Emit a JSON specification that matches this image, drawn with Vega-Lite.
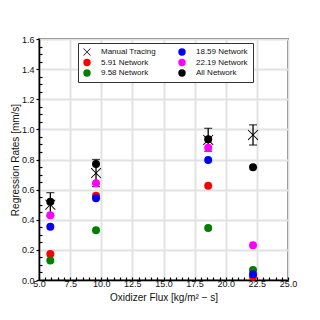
{
  "$schema": "https://vega.github.io/schema/vega-lite/v6.json",
  "width": 249,
  "height": 241,
  "autosize": "none",
  "padding": {"left": 39, "top": 39, "right": 32, "bottom": 40},
  "background": "white",
  "config": {
    "font": "Liberation Sans",
    "view": {"stroke": "#222", "strokeWidth": 1.5},
    "axis": {
      "titleFontSize": 10,
      "titleFontWeight": "normal",
      "titleColor": "#111",
      "labelFontSize": 9,
      "labelColor": "#111",
      "labelPadding": 2,
      "labelFlush": false,
      "labelOverlap": false,
      "domainColor": "black",
      "domainWidth": 1.5,
      "tickColor": "black",
      "tickWidth": 1.2,
      "grid": true,
      "gridColor": "#e2e2e2",
      "gridWidth": 2
    },
    "axisX": {"titlePadding": 4},
    "axisY": {"titlePadding": 1}
  },
  "datasets": {
    "pts": [
      {"flux": 5.91, "rate": 0.50, "series": "Manual Tracing"},
      {"flux": 9.58, "rate": 0.71, "series": "Manual Tracing"},
      {"flux": 18.59, "rate": 0.93, "series": "Manual Tracing"},
      {"flux": 22.19, "rate": 0.963, "series": "Manual Tracing"},
      {"flux": 5.91, "rate": 0.172, "series": "5.91 Network"},
      {"flux": 9.58, "rate": 0.56, "series": "5.91 Network"},
      {"flux": 18.59, "rate": 0.626, "series": "5.91 Network"},
      {"flux": 22.19, "rate": 0.022, "series": "5.91 Network"},
      {"flux": 5.91, "rate": 0.13, "series": "9.58 Network"},
      {"flux": 9.58, "rate": 0.33, "series": "9.58 Network"},
      {"flux": 18.59, "rate": 0.345, "series": "9.58 Network"},
      {"flux": 22.19, "rate": 0.066, "series": "9.58 Network"},
      {"flux": 5.91, "rate": 0.354, "series": "18.59 Network"},
      {"flux": 9.58, "rate": 0.543, "series": "18.59 Network"},
      {"flux": 18.59, "rate": 0.797, "series": "18.59 Network"},
      {"flux": 22.19, "rate": 0.038, "series": "18.59 Network"},
      {"flux": 5.91, "rate": 0.43, "series": "22.19 Network"},
      {"flux": 9.58, "rate": 0.642, "series": "22.19 Network"},
      {"flux": 18.59, "rate": 0.878, "series": "22.19 Network"},
      {"flux": 22.19, "rate": 0.23, "series": "22.19 Network"},
      {"flux": 5.91, "rate": 0.52, "series": "All Network"},
      {"flux": 9.58, "rate": 0.77, "series": "All Network"},
      {"flux": 18.59, "rate": 0.934, "series": "All Network"},
      {"flux": 22.19, "rate": 0.748, "series": "All Network"}
    ],
    "err": [
      {"flux": 5.91, "lo": 0.425, "hi": 0.58},
      {"flux": 9.58, "lo": 0.62, "hi": 0.80},
      {"flux": 18.59, "lo": 0.855, "hi": 1.007},
      {"flux": 22.19, "lo": 0.896, "hi": 1.03}
    ]
  },
  "encoding": {
    "x": {
      "field": "flux",
      "type": "quantitative",
      "scale": {"domain": [5, 25], "nice": false, "zero": false},
      "axis": {
        "title": "Oxidizer Flux [kg/m² − s]",
        "values": [5,5.5,6,6.5,7,7.5,8,8.5,9,9.5,10,10.5,11,11.5,12,12.5,13,13.5,14,14.5,15,15.5,16,16.5,17,17.5,18,18.5,19,19.5,20,20.5,21,21.5,22,22.5,23,23.5,24,24.5,25],
        "labelExpr": "abs(datum.value/2.5 - round(datum.value/2.5)) < 0.001 ? format(datum.value, '.1f') : ''",
        "tickSize": -3,
        "gridOpacity": {"condition": {"test": "abs(datum.value/2.5 - round(datum.value/2.5)) < 0.001", "value": 1}, "value": 0}
      }
    }
  },
  "layer": [
    {
      "data": {"name": "err"},
      "mark": {"type": "rule", "color": "black", "strokeWidth": 1.3},
      "encoding": {
        "y": {
          "field": "lo",
          "type": "quantitative",
          "scale": {"domain": [0, 1.6], "nice": false},
          "axis": {
            "title": "Regression Rates [mm/s]",
            "values": [0,0.05,0.1,0.15,0.2,0.25,0.3,0.35,0.4,0.45,0.5,0.55,0.6,0.65,0.7,0.75,0.8,0.85,0.9,0.95,1,1.05,1.1,1.15,1.2,1.25,1.3,1.35,1.4,1.45,1.5,1.55,1.6],
            "labelExpr": "abs(datum.value*5 - round(datum.value*5)) < 0.001 ? format(datum.value, '.1f') : ''",
            "tickSize": {"condition": {"test": "abs(datum.value*5 - round(datum.value*5)) < 0.001", "value": 3}, "value": -3},
            "gridOpacity": {"condition": {"test": "abs(datum.value*5 - round(datum.value*5)) < 0.001", "value": 1}, "value": 0}
          }
        },
        "y2": {"field": "hi"}
      }
    },
    {
      "data": {"name": "err"},
      "mark": {"type": "tick", "orient": "horizontal", "color": "black", "thickness": 1.3, "size": 8},
      "encoding": {
        "y": {
          "field": "hi",
          "type": "quantitative",
          "scale": {"domain": [0, 1.6], "nice": false},
          "axis": {
            "title": "Regression Rates [mm/s]",
            "values": [0,0.05,0.1,0.15,0.2,0.25,0.3,0.35,0.4,0.45,0.5,0.55,0.6,0.65,0.7,0.75,0.8,0.85,0.9,0.95,1,1.05,1.1,1.15,1.2,1.25,1.3,1.35,1.4,1.45,1.5,1.55,1.6],
            "labelExpr": "abs(datum.value*5 - round(datum.value*5)) < 0.001 ? format(datum.value, '.1f') : ''",
            "tickSize": {"condition": {"test": "abs(datum.value*5 - round(datum.value*5)) < 0.001", "value": 3}, "value": -3},
            "gridOpacity": {"condition": {"test": "abs(datum.value*5 - round(datum.value*5)) < 0.001", "value": 1}, "value": 0}
          }
        }
      }
    },
    {
      "data": {"name": "err"},
      "mark": {"type": "tick", "orient": "horizontal", "color": "black", "thickness": 1.3, "size": 8},
      "encoding": {
        "y": {
          "field": "lo",
          "type": "quantitative",
          "scale": {"domain": [0, 1.6], "nice": false},
          "axis": {
            "title": "Regression Rates [mm/s]",
            "values": [0,0.05,0.1,0.15,0.2,0.25,0.3,0.35,0.4,0.45,0.5,0.55,0.6,0.65,0.7,0.75,0.8,0.85,0.9,0.95,1,1.05,1.1,1.15,1.2,1.25,1.3,1.35,1.4,1.45,1.5,1.55,1.6],
            "labelExpr": "abs(datum.value*5 - round(datum.value*5)) < 0.001 ? format(datum.value, '.1f') : ''",
            "tickSize": {"condition": {"test": "abs(datum.value*5 - round(datum.value*5)) < 0.001", "value": 3}, "value": -3},
            "gridOpacity": {"condition": {"test": "abs(datum.value*5 - round(datum.value*5)) < 0.001", "value": 1}, "value": 0}
          }
        }
      }
    },
    {
      "data": {"name": "pts"},
      "mark": {"type": "point", "filled": true, "opacity": 1, "size": 64, "strokeWidth": 0},
      "encoding": {
        "y": {
          "field": "rate",
          "type": "quantitative",
          "scale": {"domain": [0, 1.6], "nice": false},
          "axis": {
            "title": "Regression Rates [mm/s]",
            "values": [0,0.05,0.1,0.15,0.2,0.25,0.3,0.35,0.4,0.45,0.5,0.55,0.6,0.65,0.7,0.75,0.8,0.85,0.9,0.95,1,1.05,1.1,1.15,1.2,1.25,1.3,1.35,1.4,1.45,1.5,1.55,1.6],
            "labelExpr": "abs(datum.value*5 - round(datum.value*5)) < 0.001 ? format(datum.value, '.1f') : ''",
            "tickSize": {"condition": {"test": "abs(datum.value*5 - round(datum.value*5)) < 0.001", "value": 3}, "value": -3},
            "gridOpacity": {"condition": {"test": "abs(datum.value*5 - round(datum.value*5)) < 0.001", "value": 1}, "value": 0}
          }
        },
        "color": {
          "field": "series",
          "type": "nominal",
          "scale": {
            "domain": ["Manual Tracing", "5.91 Network", "9.58 Network", "18.59 Network", "22.19 Network", "All Network"],
            "range": ["black", "#ff0000", "#008000", "#0000ff", "#ff00ff", "black"]
          },
          "legend": {
            "title": null,
            "orient": "none",
            "legendX": 39,
            "legendY": 4,
            "columns": 2,
            "columnPadding": 22,
            "rowPadding": 2.5,
            "padding": 5,
            "labelFontSize": 8,
            "labelColor": "#111",
            "labelOffset": 10,
            "symbolSize": 55,
            "symbolStrokeWidth": 0,
            "strokeColor": "#333",
            "fillColor": "white",
            "cornerRadius": 0
          }
        },
        "shape": {
          "field": "series",
          "type": "nominal",
          "scale": {
            "domain": ["Manual Tracing", "5.91 Network", "9.58 Network", "18.59 Network", "22.19 Network", "All Network"],
            "range": ["M-1,-0.88L-0.88,-1L0,-0.12L0.88,-1L1,-0.88L0.12,0L1,0.88L0.88,1L0,0.12L-0.88,1L-1,0.88L-0.12,0Z", "circle", "circle", "circle", "circle", "circle"]
          },
          "legend": {
            "title": null,
            "orient": "none",
            "legendX": 39,
            "legendY": 4,
            "columns": 2,
            "columnPadding": 22,
            "rowPadding": 2.5,
            "padding": 5,
            "labelFontSize": 8,
            "labelColor": "#111",
            "labelOffset": 10,
            "symbolSize": 55,
            "symbolStrokeWidth": 0,
            "strokeColor": "#333",
            "fillColor": "white",
            "cornerRadius": 0
          }
        },
        "size": {
          "condition": {"test": "datum.series === 'Manual Tracing'", "value": 110},
          "value": 64
        }
      }
    }
  ]
}
